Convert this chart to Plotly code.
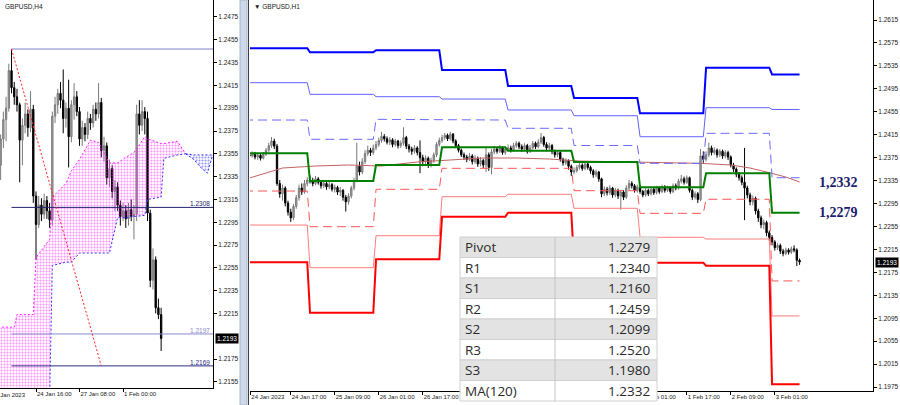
import plotly.graph_objects as go

# ================= DATA =================
# ---- Right panel: GBPUSD H1 (bar index 0 = 24 Jan 00:00) ----
h1_first_open = 12388
h1_close = [
    12385, 12380, 12378, 12382, 12376, 12379, 12374, 12381, 12388, 12396, 12404, 12395,
    12330, 12312, 12322, 12296, 12280, 12270, 12290, 12305, 12322, 12315, 12330, 12336,
    12335, 12330, 12338, 12332, 12326, 12330, 12324, 12328, 12320, 12323, 12315, 12318,
    12306, 12298, 12308, 12322, 12335, 12360, 12350, 12368, 12382, 12388, 12384, 12392,
    12398, 12405, 12412, 12408, 12402, 12406, 12398, 12404, 12396, 12400, 12410, 12395,
    12390, 12386, 12392, 12384, 12375, 12368, 12374, 12362, 12370, 12380, 12398, 12405,
    12410, 12414, 12408, 12416, 12404, 12396, 12388, 12380, 12376, 12372, 12378, 12368,
    12374, 12364, 12370, 12362, 12380, 12358, 12385, 12390, 12386, 12392, 12384, 12390,
    12392, 12388, 12396, 12400, 12394, 12390, 12396, 12386, 12392, 12400, 12394, 12402,
    12410, 12398, 12392, 12396, 12386, 12380, 12384, 12372, 12366, 12370, 12360, 12350,
    12352, 12358, 12362, 12356, 12364, 12358, 12352, 12345, 12350, 12338, 12312, 12320,
    12314, 12322, 12310, 12318, 12308, 12315, 12306, 12322, 12330, 12326, 12318, 12324,
    12316, 12310, 12318, 12312, 12320, 12314, 12322, 12316, 12324, 12318, 12322, 12316,
    12326, 12322, 12334, 12338, 12332, 12340, 12318, 12306, 12312, 12302, 12378, 12372,
    12380, 12392, 12384, 12388, 12380, 12386, 12378, 12384, 12376, 12362, 12355, 12346,
    12340, 12332, 12322, 12310, 12298, 12304, 12282, 12270, 12258, 12262, 12244, 12236,
    12228, 12218, 12222, 12212, 12208, 12214, 12210, 12216, 12214, 12196, 12193]
h1_high = [
    12392, 12388, 12384, 12386, 12385, 12383, 12382, 12385, 12392, 12401, 12411, 12408,
    12399, 12336, 12328, 12325, 12300, 12286, 12294, 12310, 12328, 12330, 12336, 12341,
    12344, 12340, 12343, 12341, 12336, 12335, 12333, 12334, 12331, 12328, 12326, 12324,
    12320, 12310, 12313, 12326, 12340, 12401, 12368, 12374, 12388, 12396, 12392, 12398,
    12404, 12410, 12420, 12416, 12412, 12411, 12409, 12408, 12406, 12405, 12428, 12413,
    12399, 12394, 12397, 12395, 12405, 12380, 12379, 12377, 12375, 12384, 12402, 12410,
    12415, 12418, 12417, 12420, 12418, 12407, 12399, 12391, 12384, 12380, 12383, 12381,
    12379, 12377, 12376, 12373, 12394, 12384, 12390, 12395, 12394, 12397, 12395, 12394,
    12398, 12396, 12401, 12404, 12403, 12398, 12400, 12399, 12397, 12404, 12403, 12407,
    12418, 12413, 12402, 12401, 12399, 12389, 12388, 12386, 12375, 12374, 12372, 12363,
    12358, 12362, 12367, 12365, 12368, 12367, 12361, 12355, 12354, 12352, 12340, 12325,
    12324, 12327, 12324, 12322, 12321, 12319, 12318, 12327, 12336, 12334, 12329, 12328,
    12327, 12319, 12322, 12321, 12324, 12323, 12326, 12325, 12328, 12327, 12326, 12325,
    12330, 12330, 12338, 12345, 12342, 12344, 12342, 12321, 12316, 12315, 12390, 12386,
    12386, 12401, 12396, 12393, 12391, 12390, 12389, 12388, 12387, 12379, 12366, 12358,
    12350, 12344, 12392, 12326, 12314, 12309, 12307, 12286, 12274, 12267, 12265, 12248,
    12240, 12231, 12226, 12225, 12216, 12218, 12217, 12220, 12222, 12217, 12199]
h1_low = [
    12381, 12376, 12373, 12375, 12372, 12371, 12370, 12372, 12378, 12385, 12392, 12390,
    12326, 12305, 12300, 12290, 12274, 12263, 12266, 12286, 12300, 12310, 12312, 12325,
    12330, 12325, 12327, 12328, 12321, 12322, 12319, 12320, 12316, 12314, 12310, 12308,
    12300, 12281, 12293, 12304, 12318, 12332, 12344, 12346, 12364, 12378, 12378, 12380,
    12388, 12394, 12401, 12403, 12398, 12397, 12393, 12394, 12391, 12392, 12396, 12390,
    12384, 12380, 12382, 12379, 12348, 12360, 12364, 12357, 12358, 12366, 12376, 12394,
    12401, 12406, 12404, 12405, 12400, 12392, 12384, 12376, 12371, 12367, 12369, 12363,
    12364, 12359, 12360, 12357, 12350, 12352, 12346, 12381, 12382, 12383, 12380, 12380,
    12386, 12384, 12385, 12392, 12390, 12385, 12386, 12382, 12383, 12389, 12390, 12391,
    12399, 12394, 12386, 12388, 12381, 12375, 12376, 12368, 12361, 12362, 12354, 12343,
    12346, 12349, 12354, 12352, 12353, 12354, 12347, 12340, 12341, 12333, 12306, 12308,
    12309, 12310, 12305, 12306, 12303, 12284, 12301, 12303, 12318, 12321, 12314, 12314,
    12312, 12306, 12307, 12308, 12309, 12310, 12311, 12312, 12313, 12314, 12315, 12312,
    12313, 12318, 12319, 12330, 12328, 12329, 12314, 12301, 12302, 12296, 12299, 12366,
    12368, 12376, 12379, 12380, 12375, 12376, 12373, 12374, 12371, 12358, 12350, 12341,
    12335, 12327, 12266, 12304, 12292, 12292, 12276, 12263, 12252, 12250, 12238, 12230,
    12222, 12213, 12214, 12207, 12203, 12205, 12206, 12207, 12210, 12186, 12188]

# daily pivot levels (one value per trading day)
day_start = [0, 24, 48, 72, 96, 120, 144, 168, 192]
day_end = [23, 47, 71, 95, 119, 143, 167, 191, 202]
lvl_r3 = [1.25657, 1.25587, 1.25622, 1.25278, 1.25001, 1.24790, 1.24523, 1.25318, 1.2520]
lvl_r2 = [1.25057, 1.24854, 1.24813, 1.24772, 1.24581, 1.24481, 1.24115, 1.24621, 1.2459]
lvl_r1 = [1.24406, 1.24070, 1.24418, 1.24406, 1.24262, 1.23962, 1.23651, 1.24174, 1.2340]
lvl_pp = [1.23826, 1.23343, 1.23622, 1.23930, 1.23871, 1.23674, 1.23233, 1.23477, 1.2279]
lvl_s1 = [1.23168, 1.22546, 1.23198, 1.23564, 1.23564, 1.23174, 1.22779, 1.23024, 1.2160]
lvl_s2 = [1.22575, 1.21831, 1.22389, 1.23069, 1.23111, 1.22867, 1.22361, 1.22331, 1.2099]
lvl_s3 = [1.21925, 1.21046, 1.21977, 1.22720, 1.22790, 1.21918, 1.21918, 1.21866, 1.1980]

# MA(120)
ma_idx = [2, 14, 26, 38, 50, 63, 75, 87, 99, 111, 122, 137, 151, 166, 177, 184, 190, 197, 202]
ma_val = [1.23395, 1.23569, 1.23604, 1.23622, 1.23604, 1.23674, 1.23709, 1.23744, 1.23744,
          1.23726, 1.23691, 1.23674, 1.23657, 1.23651, 1.23622, 1.23569, 1.23500, 1.23412, 1.23325]

# time labels (those hidden behind the table are left out)
h1_tick_idx = [2.3, 17, 33, 49, 65, 145, 161, 177, 193]
h1_tick_txt = ["24 Jan 2023", "24 Jan 17:00", "25 Jan 09:00", "26 Jan 01:00", "26 Jan 17:00",
               "1 Feb 01:00", "1 Feb 17:00", "2 Feb 09:00", "3 Feb 01:00"]
h1_price_ticks = [1.1975 + 0.004 * k for k in range(17)]

table_labels = ["Pivot", "R1", "S1", "R2", "S2", "R3", "S3", "MA(120)"]
table_values = [1.2279, 1.2340, 1.2160, 1.2459, 1.2099, 1.2520, 1.1980, 1.2332]
side_labels = ["1,2332", "1,2279"]
side_label_values = [1.2332, 1.2279]
last_price = 1.2193

# ---- Left panel: GBPUSD H4 (bar index 0 = 24 Jan 16:00) ----
h4_first_idx = -13
h4_first_open = 12345
h4_close = [12368, 12385, 12395, 12428, 12413, 12405, 12398, 12367, 12380, 12390, 12378, 12394, 12318,
            12293, 12310, 12302, 12314, 12305, 12297, 12388, 12398, 12408, 12402, 12386, 12395, 12370,
            12398, 12405, 12392, 12368, 12378, 12372, 12386, 12382, 12394, 12390, 12400, 12358, 12362,
            12334, 12342, 12322, 12326, 12310, 12300, 12305, 12298, 12306, 12300, 12302, 12390, 12380,
            12392, 12386, 12303, 12244, 12262, 12220, 12214, 12193]
h4_high = [12372, 12392, 12405, 12434, 12447, 12418, 12412, 12400, 12386, 12400, 12394, 12410, 12398,
           12322, 12318, 12316, 12320, 12318, 12312, 12392, 12405, 12412, 12418, 12429, 12400, 12420,
           12402, 12417, 12410, 12396, 12384, 12382, 12392, 12390, 12398, 12400, 12417, 12404, 12370,
           12365, 12350, 12345, 12332, 12330, 12314, 12312, 12310, 12312, 12315, 12310, 12398, 12402,
           12402, 12396, 12392, 12306, 12272, 12265, 12228, 12220]
h4_low = [12332, 12360, 12366, 12392, 12408, 12398, 12392, 12330, 12345, 12373, 12370, 12374, 12312,
          12262, 12290, 12296, 12298, 12298, 12290, 12292, 12382, 12390, 12395, 12373, 12378, 12343,
          12365, 12385, 12388, 12362, 12362, 12366, 12368, 12376, 12378, 12384, 12386, 12352, 12348,
          12328, 12326, 12316, 12305, 12305, 12292, 12296, 12290, 12292, 12296, 12280, 12296, 12372,
          12375, 12372, 12296, 12238, 12236, 12215, 12210, 12182]

# Ichimoku cloud (bullish part: span A above span B)
kumo_x = [-14, -8, -7, -1, 0, 5, 6, 11, 13, 16, 20, 23, 27, 30, 33, 36, 40, 41, 46, 47, 52, 55]
kumo_a = [12203, 12203, 12214, 12214, 12264, 12280, 12317, 12329, 12340, 12350, 12367, 12365, 12347,
          12347, 12352, 12356, 12370, 12368, 12364, 12364, 12366, 12355]
kumo_b = [12140, 12140, 12140, 12140, 12140, 12140, 12257, 12260, 12260, 12268, 12268, 12268, 12268,
          12299, 12299, 12300, 12301, 12315, 12317, 12351, 12354, 12355]
# bearish part (span B above span A)
kumo2_x = [55, 58, 61, 63, 65]
kumo2_b = [12355, 12354, 12354, 12354, 12354]
kumo2_a = [12355, 12350, 12342, 12338, 12354]

h4_levels = [1.24469, 1.2308, 1.2197, 1.2169]
h4_level_labels = ["", "1.2308", "1.2197", "1.2169"]
h4_level_colors = ["#8080cc", "#24246e", "#8a8ad0", "#2c2c88"]
h4_level_start = -9
trend_x = [-9, 24]
trend_y = [1.24469, 1.2169]

h4_tick_idx = [0, 16, 32]
h4_tick_txt = ["24 Jan 16:00", "27 Jan 08:00", "1 Feb 00:00"]
h4_price_ticks = [1.2155 + 0.002 * k for k in range(17) if k != 2]  # 1.2195 hidden by price box

# ================= FIGURE =================
W, H = 900, 405


def px(x):
    return x / W


def py(y):
    return 1 - y / H


FONT = "Liberation Sans"
fig = go.Figure()

# ---------- left panel ----------
h4_x = list(range(h4_first_idx, h4_first_idx + len(h4_close)))
h4_open = [h4_first_open] + h4_close[:-1]

# cloud
fig.add_trace(go.Scatter(
    x=kumo_x + kumo_x[::-1], y=[v / 1e4 for v in kumo_a] + [v / 1e4 for v in kumo_b[::-1]],
    fill="toself", fillcolor="rgba(0,0,0,0)", mode="lines", line=dict(width=0),
    fillpattern=dict(shape=".", fgcolor="#ff22ff", bgcolor="rgba(0,0,0,0)", size=3, solidity=0.4),
    xaxis="x", yaxis="y", hoverinfo="skip"))
fig.add_trace(go.Scatter(
    x=kumo2_x + kumo2_x[::-1], y=[v / 1e4 for v in kumo2_b] + [v / 1e4 for v in kumo2_a[::-1]],
    fill="toself", fillcolor="rgba(0,0,0,0)", mode="lines", line=dict(width=0),
    fillpattern=dict(shape=".", fgcolor="#3030ff", bgcolor="rgba(0,0,0,0)", size=3, solidity=0.4),
    xaxis="x", yaxis="y", hoverinfo="skip"))
fig.add_trace(go.Scatter(x=kumo_x, y=[v / 1e4 for v in kumo_a], mode="lines",
                         line=dict(color="#ff22ff", width=1, dash="2px,2px"), xaxis="x", yaxis="y"))
fig.add_trace(go.Scatter(x=kumo_x, y=[v / 1e4 for v in kumo_b], mode="lines",
                         line=dict(color="#3333ff", width=1, dash="2px,2px"), xaxis="x", yaxis="y"))
fig.add_trace(go.Scatter(x=kumo2_x, y=[v / 1e4 for v in kumo2_b], mode="lines",
                         line=dict(color="#3333ff", width=1, dash="2px,2px"), xaxis="x", yaxis="y"))
fig.add_trace(go.Scatter(x=kumo2_x, y=[v / 1e4 for v in kumo2_a], mode="lines",
                         line=dict(color="#3333ff", width=1, dash="2px,2px"), xaxis="x", yaxis="y"))

fig.add_trace(go.Candlestick(
    x=h4_x, open=[v / 1e4 for v in h4_open], high=[v / 1e4 for v in h4_high],
    low=[v / 1e4 for v in h4_low], close=[v / 1e4 for v in h4_close],
    increasing=dict(line=dict(color="#7a7a7a", width=1), fillcolor="#a8a8a8"),
    decreasing=dict(line=dict(color="#000000", width=1), fillcolor="#000000"),
    whiskerwidth=0, xaxis="x", yaxis="y", hoverinfo="skip"))

for lv, col in zip(h4_levels, h4_level_colors):
    fig.add_trace(go.Scatter(x=[h4_level_start, 80], y=[lv, lv], mode="lines",
                             line=dict(color=col, width=1), xaxis="x", yaxis="y"))
fig.add_trace(go.Scatter(x=trend_x, y=trend_y, mode="lines",
                         line=dict(color="#ff2020", width=1, dash="2px,2px"), xaxis="x", yaxis="y"))

# ---------- right panel ----------
h1_x = list(range(len(h1_close)))
h1_open = [h1_first_open] + h1_close[:-1]
fig.add_trace(go.Candlestick(
    x=h1_x, open=[v / 1e4 for v in h1_open], high=[v / 1e4 for v in h1_high],
    low=[v / 1e4 for v in h1_low], close=[v / 1e4 for v in h1_close],
    increasing=dict(line=dict(color="#7a7a7a", width=1), fillcolor="#a8a8a8"),
    decreasing=dict(line=dict(color="#000000", width=1), fillcolor="#000000"),
    whiskerwidth=0, xaxis="x2", yaxis="y2", hoverinfo="skip"))

fig.add_trace(go.Scatter(x=ma_idx, y=ma_val, mode="lines", line=dict(color="#c46262", width=1),
                         xaxis="x2", yaxis="y2"))


def steps(levels):
    xs, ys = [], []
    for s, e, v in zip(day_start, day_end, levels):
        xs += [s, e]
        ys += [v, v]
    return xs, ys


pivot_styles = [
    (lvl_r3, "#0000ff", 2, "solid"),
    (lvl_r2, "#6262ff", 1, "solid"),
    (lvl_r1, "#6a6aff", 1, "9px,5px"),
    (lvl_pp, "#008000", 2, "solid"),
    (lvl_s1, "#ff5555", 1, "9px,5px"),
    (lvl_s2, "#ff7c7c", 1, "solid"),
    (lvl_s3, "#ff0000", 2, "solid"),
]
for lv, col, w, dash in pivot_styles:
    xs, ys = steps(lv)
    fig.add_trace(go.Scatter(x=xs, y=ys, mode="lines", line=dict(color=col, width=w, dash=dash),
                             xaxis="x2", yaxis="y2"))

# ---------- axes ----------
tickfont = dict(family=FONT, size=6.5, color="#202020")
xfont = dict(family=FONT, size=6, color="#202020")
left_bottom = 388
right_bottom = 391

common = dict(showline=True, linecolor="#000", linewidth=1, showgrid=False, zeroline=False,
              ticks="outside", ticklen=3, tickcolor="#000")
fig.update_layout(
    width=W, height=H, margin=dict(l=0, r=0, t=0, b=0),
    paper_bgcolor="white", plot_bgcolor="white", showlegend=False, hovermode=False,
    xaxis=dict(domain=[0, px(213)], range=[-13.24, 65.07], anchor="y", tickvals=h4_tick_idx,
               ticktext=h4_tick_txt, tickangle=0, ticklabelposition="outside right", tickfont=xfont,
               rangeslider=dict(visible=False), **common),
    yaxis=dict(domain=[(H - left_bottom) / H, 1], range=[1.21496, 1.24899], anchor="x", side="right",
               tickvals=h4_price_ticks, tickformat=".4f", tickfont=tickfont, **common),
    xaxis2=dict(domain=[px(250), px(873)], range=[2.18, 228.7], anchor="y2", tickvals=h1_tick_idx,
                ticktext=h1_tick_txt, tickangle=0, ticklabelposition="outside right", tickfont=xfont,
                rangeslider=dict(visible=False), **common),
    yaxis2=dict(domain=[(H - right_bottom) / H, 1], range=[1.19681, 1.26499], anchor="x2", side="right",
                tickvals=h1_price_ticks, tickformat=".4f", tickfont=tickfont, **common),
)

shapes = []
annotations = []

# divider between the two windows
shapes.append(dict(type="rect", xref="paper", yref="paper", x0=px(240), x1=px(247), y0=0, y1=1,
                   fillcolor="#cdd8e8", line=dict(color="#aab8cc", width=1), layer="above"))
shapes.append(dict(type="line", xref="paper", yref="paper", x0=px(248.5), x1=px(248.5), y0=0, y1=1,
                   line=dict(color="#404040", width=1), layer="above"))

# table
row_h = 20.5
top = 237
for i, (lab, val) in enumerate(zip(table_labels, table_values)):
    y0 = top + i * row_h
    fill = "#e3e3e3" if i % 2 == 0 else "#ffffff"
    shapes.append(dict(type="rect", xref="paper", yref="paper", x0=px(460), x1=px(657),
                       y0=py(y0 + row_h), y1=py(y0), fillcolor=fill,
                       line=dict(color="#d0d0d0", width=1), layer="above"))
    annotations.append(dict(xref="paper", yref="paper", x=px(463), y=py(y0 + row_h / 2), text=lab,
                            showarrow=False, xanchor="left", yanchor="middle",
                            font=dict(family="Open Sans", size=13.5, color="#2a2a2a")))
    annotations.append(dict(xref="paper", yref="paper", x=px(652), y=py(y0 + row_h / 2), text=f"{val:.4f}",
                            showarrow=False, xanchor="right", yanchor="middle",
                            font=dict(family="Open Sans", size=13.5, color="#2a2a2a")))
shapes.append(dict(type="line", xref="paper", yref="paper", x0=px(555), x1=px(555),
                   y0=py(top + 8 * row_h), y1=py(top), line=dict(color="#c4c4c4", width=1), layer="above"))

# right-side level labels
for txt, v in zip(side_labels, side_label_values):
    annotations.append(dict(xref="paper", yref="y2", x=px(817), y=v, text=f"<b>{txt}</b>", showarrow=False,
                            xanchor="left", yanchor="middle",
                            font=dict(family="Liberation Serif", size=14, color="#1c1c6c")))

# last price boxes
annotations.append(dict(xref="paper", yref="y2", x=px(875), y=last_price, text=f"{last_price:.4f}",
                        showarrow=False, xanchor="left", yanchor="middle", bgcolor="#000000",
                        borderpad=1, font=dict(family=FONT, size=6.5, color="white")))
annotations.append(dict(xref="paper", yref="y", x=px(215), y=last_price, text=f"{last_price:.4f}",
                        showarrow=False, xanchor="left", yanchor="middle", bgcolor="#000000",
                        borderpad=1, font=dict(family=FONT, size=6.5, color="white")))

# H4 level labels
for lv, lab, col in zip(h4_levels, h4_level_labels, h4_level_colors):
    if lab:
        annotations.append(dict(xref="paper", yref="y", x=px(212), y=lv, text=lab, showarrow=False,
                                xanchor="right", yanchor="bottom", yshift=-2,
                                font=dict(family=FONT, size=6.5, color=col)))

# titles
annotations.append(dict(xref="paper", yref="paper", x=px(3), y=py(1), text="GBPUSD,H4", showarrow=False,
                        xanchor="left", yanchor="top", font=dict(family=FONT, size=6.5, color="#202020")))
annotations.append(dict(xref="paper", yref="paper", x=px(252), y=py(1), text="▼ GBPUSD,H1", showarrow=False,
                        xanchor="left", yanchor="top", font=dict(family=FONT, size=6.5, color="#202020")))
# first (partly hidden) date label of the H4 window
annotations.append(dict(xref="paper", yref="paper", x=px(28), y=py(left_bottom + 2), text="20 Jan 2023",
                        showarrow=False, xanchor="right", yanchor="top", font=xfont))

fig.update_layout(shapes=shapes, annotations=annotations)
fig.write_html("out.html", config={"displayModeBar": False, "staticPlot": True},
               post_script="document.body.style.margin='0';document.body.style.overflow='hidden';")
